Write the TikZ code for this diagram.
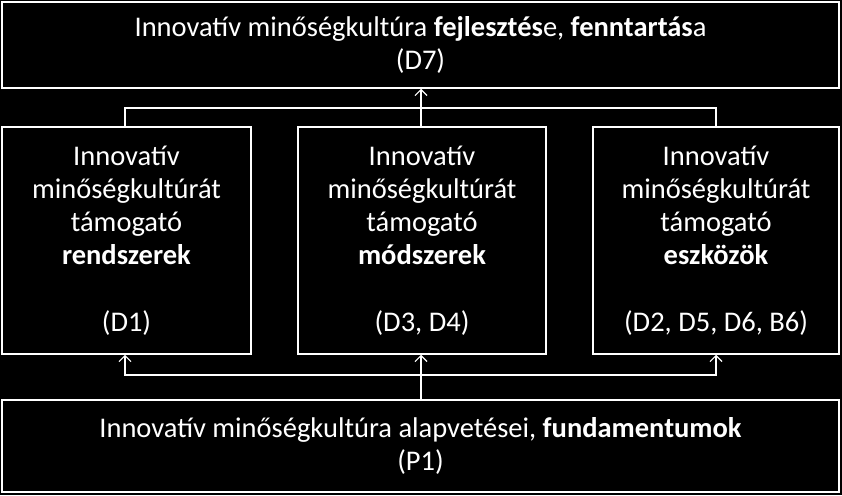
\documentclass[tikz,border=0pt]{standalone}
\usepackage{fontspec}
\setmainfont{Carlito}
\usetikzlibrary{positioning,arrows.meta}
\tikzset{box/.style={draw=white,line width=1.5pt,text=white,align=center,font=\fontsize{28.5}{33}\selectfont},
  link/.style={draw=white,line width=1.2pt,-{Straight Barb[length=6pt,width=12pt]}}}
\begin{document}
\begin{tikzpicture}[x=1pt,y=-1pt]
\fill[black] (0,0) rectangle (842,495);
%the boxes
\node[box,minimum width=837pt,minimum height=86pt] (goal) at (420.5,45) {Innovatív minőségkultúra \textbf{fejlesztés}e, \textbf{fenntartás}a\\(D7)};
\node[box,minimum width=249pt,minimum height=227pt] (sys) at (126.5,240.5) {Innovatív\\minőségkultúrát\\támogató\\\textbf{rendszerek}\\[34pt](D1)};
\node[box,minimum width=248pt,minimum height=227pt] (met) at (422,240.5) {Innovatív\\minőségkultúrát\\támogató\\\textbf{módszerek}\\[34pt](D3, D4)};
\node[box,minimum width=246pt,minimum height=227pt] (tool) at (716,240.5) {Innovatív\\minőségkultúrát\\támogató\\\textbf{eszközök}\\[34pt](D2, D5, D6, B6)};
\node[box,minimum width=837pt,minimum height=92pt] (base) at (420.5,446) {Innovatív minőségkultúra alapvetései, \textbf{fundamentumok}\\(P1)};
%connectors
\coordinate (up) at (421,108);
\coordinate (dn) at (421,375);
\draw[link,-] (sys.north -| 125,0) |- (up) -| (tool.north -| 716,0);
\draw[link] (met.north -| up) -- (goal.south -| up);
\draw[link,-] (base.north -| dn) -- (dn);
\draw[link] (dn) -| (sys.south -| 125,0);
\draw[link] (dn) -| (tool.south -| 716,0);
\draw[link] (dn) -- (met.south -| dn);
\end{tikzpicture}
\end{document}
